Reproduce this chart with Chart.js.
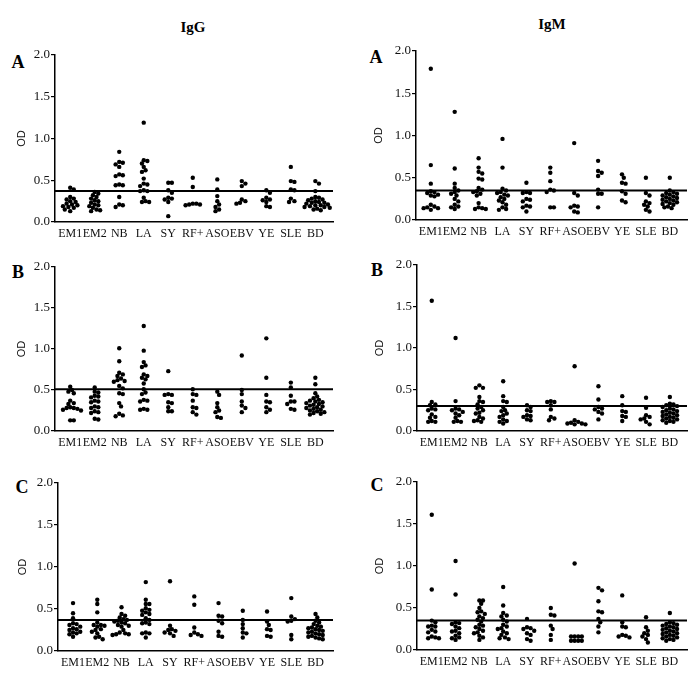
<!DOCTYPE html>
<html>
<head>
<meta charset="utf-8">
<title>IgG / IgM OD</title>
<script src="https://cdn.jsdelivr.net/npm/chart.js@4.4.1/dist/chart.umd.min.js"></script>
<style>
    html, body { margin: 0; padding: 0; background: #fff; }
    #page { position: relative; width: 700px; height: 677px; overflow: hidden; }
    #page canvas { position: absolute; }
    .lbl { position: absolute; transform: translate(-50%, -50%); font-family: 'Liberation Serif', 'Times New Roman', serif; font-weight: bold; color: #000; white-space: nowrap; line-height: 1; }
    .head { font-size: 15px; }
    .panel { font-size: 18px; }
</style>
</head>
<body>
<div id="page">
    <div class="lbl head" style="left:193px;top:27px">IgG</div>
    <div class="lbl head" style="left:552px;top:24px">IgM</div>
    <div class="lbl panel" style="left:18px;top:62px">A</div>
    <div class="lbl panel" style="left:376px;top:57px">A</div>
    <div class="lbl panel" style="left:18px;top:272px">B</div>
    <div class="lbl panel" style="left:377px;top:270px">B</div>
    <div class="lbl panel" style="left:22px;top:487px">C</div>
    <div class="lbl panel" style="left:377px;top:485px">C</div>
    <canvas id="c1"></canvas>
    <canvas id="c2"></canvas>
    <canvas id="c3"></canvas>
    <canvas id="c4"></canvas>
    <canvas id="c5"></canvas>
    <canvas id="c6"></canvas>
</div>
<script>
// ---- data (OD values per group) ----
const categories = ['EM1', 'EM2', 'NB', 'LA', 'SY', 'RF+', 'ASO', 'EBV', 'YE', 'SLE', 'BD'];
const yTicks = [0, 0.5, 1.0, 1.5, 2.0];

// IgG, panel A
const iggA = [
    [0.41, 0.39, 0.30, 0.28, 0.27, 0.25, 0.24, 0.22, 0.21, 0.20, 0.19, 0.18, 0.17, 0.15, 0.13],
    [0.36, 0.34, 0.32, 0.30, 0.28, 0.26, 0.25, 0.23, 0.21, 0.20, 0.19, 0.17, 0.15, 0.14, 0.13],
    [0.84, 0.72, 0.71, 0.69, 0.66, 0.57, 0.56, 0.55, 0.45, 0.44, 0.44, 0.30, 0.21, 0.20, 0.18],
    [1.19, 0.74, 0.73, 0.70, 0.66, 0.62, 0.60, 0.52, 0.46, 0.45, 0.43, 0.38, 0.37, 0.37, 0.29, 0.25, 0.24, 0.24],
    [0.47, 0.47, 0.38, 0.35, 0.29, 0.28, 0.27, 0.24, 0.07],
    [0.53, 0.42, 0.22, 0.22, 0.21, 0.21, 0.20],
    [0.51, 0.39, 0.31, 0.25, 0.21, 0.18, 0.15, 0.13],
    [0.49, 0.46, 0.43, 0.27, 0.25, 0.23, 0.22],
    [0.38, 0.35, 0.29, 0.27, 0.26, 0.24, 0.19, 0.18],
    [0.66, 0.49, 0.48, 0.39, 0.38, 0.28, 0.25, 0.24],
    [0.49, 0.46, 0.37, 0.30, 0.29, 0.28, 0.27, 0.26, 0.25, 0.24, 0.23, 0.23, 0.22, 0.21, 0.20, 0.20, 0.19, 0.18, 0.18, 0.17, 0.16, 0.15, 0.14]
];
// IgM, panel A
const igmA = [
    [1.79, 0.65, 0.43, 0.34, 0.33, 0.32, 0.30, 0.29, 0.28, 0.18, 0.16, 0.15, 0.14, 0.14, 0.12],
    [1.28, 0.61, 0.43, 0.38, 0.35, 0.33, 0.31, 0.29, 0.25, 0.22, 0.18, 0.16, 0.15, 0.13],
    [0.73, 0.62, 0.57, 0.55, 0.49, 0.48, 0.38, 0.36, 0.34, 0.33, 0.31, 0.29, 0.20, 0.15, 0.14, 0.13, 0.13],
    [0.96, 0.62, 0.37, 0.35, 0.33, 0.32, 0.30, 0.29, 0.27, 0.25, 0.23, 0.21, 0.18, 0.15, 0.13, 0.12],
    [0.44, 0.33, 0.32, 0.32, 0.25, 0.24, 0.22, 0.17, 0.16, 0.15, 0.10],
    [0.62, 0.56, 0.46, 0.36, 0.35, 0.33, 0.15, 0.15],
    [0.91, 0.32, 0.29, 0.17, 0.16, 0.15, 0.10, 0.09],
    [0.70, 0.58, 0.56, 0.52, 0.36, 0.31, 0.31, 0.15],
    [0.54, 0.50, 0.44, 0.43, 0.34, 0.31, 0.23, 0.21],
    [0.50, 0.32, 0.29, 0.22, 0.20, 0.18, 0.16, 0.12, 0.10],
    [0.50, 0.35, 0.33, 0.32, 0.31, 0.30, 0.29, 0.28, 0.27, 0.26, 0.25, 0.24, 0.23, 0.22, 0.21, 0.20, 0.19, 0.18, 0.16, 0.15, 0.14]
];
// IgG, panel B
const iggB = [
    [0.54, 0.50, 0.48, 0.46, 0.37, 0.34, 0.33, 0.29, 0.28, 0.28, 0.27, 0.26, 0.25, 0.13, 0.13],
    [0.53, 0.48, 0.47, 0.43, 0.42, 0.41, 0.37, 0.36, 0.35, 0.30, 0.29, 0.28, 0.24, 0.23, 0.22, 0.15, 0.14],
    [1.01, 0.85, 0.71, 0.69, 0.67, 0.64, 0.62, 0.61, 0.60, 0.55, 0.52, 0.46, 0.45, 0.34, 0.30, 0.21, 0.19, 0.18],
    [1.28, 0.98, 0.84, 0.80, 0.78, 0.69, 0.67, 0.65, 0.63, 0.58, 0.51, 0.47, 0.45, 0.38, 0.37, 0.36, 0.27, 0.26, 0.26],
    [0.73, 0.45, 0.44, 0.44, 0.35, 0.34, 0.29, 0.24, 0.24],
    [0.51, 0.45, 0.44, 0.37, 0.29, 0.28, 0.23, 0.20],
    [0.48, 0.44, 0.34, 0.29, 0.25, 0.23, 0.17, 0.16],
    [0.92, 0.50, 0.45, 0.36, 0.31, 0.28, 0.23],
    [1.13, 0.65, 0.44, 0.36, 0.35, 0.29, 0.26, 0.23],
    [0.59, 0.53, 0.43, 0.36, 0.36, 0.33, 0.27, 0.26],
    [0.65, 0.57, 0.46, 0.42, 0.40, 0.38, 0.37, 0.36, 0.35, 0.34, 0.33, 0.32, 0.31, 0.30, 0.29, 0.28, 0.27, 0.26, 0.25, 0.24, 0.23, 0.22, 0.21, 0.20]
];
// IgM, panel B
const igmB = [
    [1.57, 0.35, 0.32, 0.31, 0.27, 0.26, 0.25, 0.20, 0.17, 0.16, 0.12, 0.11, 0.11],
    [1.12, 0.36, 0.27, 0.26, 0.25, 0.23, 0.21, 0.19, 0.16, 0.12, 0.11, 0.11],
    [0.55, 0.52, 0.52, 0.41, 0.36, 0.35, 0.32, 0.29, 0.27, 0.25, 0.22, 0.21, 0.17, 0.15, 0.13, 0.12, 0.11],
    [0.60, 0.42, 0.36, 0.35, 0.29, 0.25, 0.24, 0.21, 0.19, 0.17, 0.14, 0.12, 0.11, 0.09],
    [0.31, 0.29, 0.25, 0.24, 0.19, 0.18, 0.17, 0.14, 0.13],
    [0.36, 0.35, 0.35, 0.31, 0.26, 0.17, 0.15, 0.13],
    [0.78, 0.13, 0.11, 0.10, 0.09, 0.09, 0.08, 0.08],
    [0.54, 0.38, 0.29, 0.27, 0.26, 0.23, 0.21, 0.14],
    [0.42, 0.31, 0.24, 0.23, 0.18, 0.17, 0.12],
    [0.40, 0.28, 0.19, 0.17, 0.15, 0.14, 0.11, 0.08],
    [0.41, 0.33, 0.32, 0.31, 0.30, 0.29, 0.27, 0.26, 0.25, 0.24, 0.23, 0.22, 0.21, 0.20, 0.19, 0.18, 0.17, 0.16, 0.15, 0.14, 0.13, 0.12, 0.11, 0.10]
];
// IgG, panel C
const iggC = [
    [0.57, 0.45, 0.39, 0.33, 0.32, 0.31, 0.29, 0.27, 0.26, 0.25, 0.23, 0.22, 0.21, 0.20, 0.17],
    [0.61, 0.56, 0.46, 0.34, 0.31, 0.31, 0.30, 0.29, 0.26, 0.25, 0.23, 0.21, 0.17, 0.16, 0.14],
    [0.52, 0.44, 0.42, 0.40, 0.38, 0.37, 0.36, 0.35, 0.34, 0.33, 0.31, 0.30, 0.29, 0.25, 0.22, 0.21, 0.20, 0.20, 0.19],
    [0.82, 0.61, 0.56, 0.56, 0.51, 0.49, 0.48, 0.46, 0.44, 0.43, 0.39, 0.37, 0.34, 0.33, 0.32, 0.22, 0.21, 0.21, 0.16],
    [0.83, 0.30, 0.26, 0.25, 0.24, 0.22, 0.21, 0.18],
    [0.65, 0.55, 0.28, 0.22, 0.20, 0.19, 0.18],
    [0.57, 0.42, 0.41, 0.36, 0.33, 0.23, 0.18, 0.17],
    [0.48, 0.37, 0.32, 0.27, 0.22, 0.21, 0.16],
    [0.47, 0.35, 0.31, 0.26, 0.25, 0.18, 0.17],
    [0.63, 0.41, 0.38, 0.36, 0.35, 0.19, 0.14],
    [0.44, 0.40, 0.36, 0.34, 0.32, 0.30, 0.29, 0.28, 0.27, 0.26, 0.25, 0.24, 0.23, 0.22, 0.21, 0.20, 0.19, 0.18, 0.17, 0.16, 0.15, 0.14]
];
// IgM, panel C
const igmC = [
    [1.61, 0.72, 0.35, 0.33, 0.29, 0.28, 0.28, 0.24, 0.22, 0.21, 0.16, 0.15, 0.14, 0.14],
    [1.06, 0.66, 0.33, 0.32, 0.31, 0.28, 0.26, 0.23, 0.22, 0.20, 0.17, 0.15, 0.14, 0.12],
    [0.59, 0.59, 0.55, 0.50, 0.46, 0.45, 0.43, 0.40, 0.38, 0.36, 0.34, 0.30, 0.29, 0.27, 0.25, 0.23, 0.21, 0.20, 0.17, 0.15, 0.12],
    [0.75, 0.53, 0.44, 0.41, 0.40, 0.36, 0.34, 0.30, 0.28, 0.26, 0.25, 0.22, 0.20, 0.18, 0.15, 0.14, 0.13],
    [0.37, 0.27, 0.26, 0.25, 0.23, 0.20, 0.18, 0.13, 0.11],
    [0.50, 0.42, 0.41, 0.29, 0.25, 0.18, 0.12],
    [1.03, 0.16, 0.16, 0.16, 0.16, 0.11, 0.11, 0.11, 0.11],
    [0.74, 0.71, 0.58, 0.46, 0.45, 0.37, 0.33, 0.28, 0.21],
    [0.65, 0.33, 0.28, 0.27, 0.18, 0.17, 0.16, 0.15],
    [0.39, 0.27, 0.23, 0.20, 0.18, 0.16, 0.13, 0.09],
    [0.44, 0.33, 0.32, 0.31, 0.30, 0.29, 0.28, 0.27, 0.26, 0.25, 0.24, 0.23, 0.22, 0.21, 0.20, 0.19, 0.18, 0.17, 0.16, 0.15, 0.14, 0.13, 0.12, 0.11]
];

// cut-off lines
const iggACut = 0.37;
const igmACut = 0.35;
const iggBCut = 0.51;
const igmBCut = 0.30;
const iggCCut = 0.37;
const igmCCut = 0.35;

// ---- layout ----
const X_MIN = -0.62;
const X_MAX = 10.72;
const AXIS_W = 55;     // room left of the y axis line
const AXIS_H = 24;     // room under the x axis line
const PAD_T = 12;
const PAD_R = 12;

// chart area in page pixels: [left, top, right, bottom]
const panels = [
    { id: 'c1', groups: iggA, cut: iggACut, area: [55, 55, 333, 222], titlePad: 15 },
    { id: 'c2', groups: igmA, cut: igmACut, area: [416, 51, 687, 220], titlePad: 11 },
    { id: 'c3', groups: iggB, cut: iggBCut, area: [55, 267, 333, 431], titlePad: 15 },
    { id: 'c4', groups: igmB, cut: igmBCut, area: [417, 265, 687, 431], titlePad: 11 },
    { id: 'c5', groups: iggC, cut: iggCCut, area: [58, 483, 333, 651], titlePad: 13 },
    { id: 'c6', groups: igmC, cut: igmCCut, area: [417, 482, 687, 650], titlePad: 11 }
];

// spread equal-ish values sideways so dots don't sit on top of each other
function swarm(values, pxX, pxY, gap) {
    const placed = [];
    const out = new Array(values.length);
    const order = values.map((v, i) => i).sort((a, b) => values[b] - values[a]);
    order.forEach(i => {
        const y = values[i] * pxY;
        let off = 0;
        for (let k = 0; k < 60; k++) {
            const cand = (k % 2 ? 1 : -1) * Math.ceil(k / 2) * gap / 2;
            const hit = placed.some(p => (p.x - cand) ** 2 + (p.y - y) ** 2 < gap * gap);
            if (!hit) { off = cand; break; }
        }
        placed.push({ x: off, y: y });
        out[i] = off / pxX;
    });
    return out;
}

const serif = "'Liberation Serif', 'Times New Roman', serif";

panels.forEach(p => {
    const [aL, aT, aR, aB] = p.area;
    const left = aL - AXIS_W;
    const top = aT - PAD_T;
    const width = aR - left + PAD_R;
    const height = aB - top + AXIS_H;

    const cv = document.getElementById(p.id);
    cv.width = width;
    cv.height = height;
    cv.style.left = left + 'px';
    cv.style.top = top + 'px';
    cv.style.width = width + 'px';
    cv.style.height = height + 'px';

    const pxX = (aR - aL) / (X_MAX - X_MIN);
    const pxY = (aB - aT) / 2;

    const points = [];
    p.groups.forEach((vals, gi) => {
        const offs = swarm(vals, pxX, pxY, 3.6);
        vals.forEach((v, j) => points.push({ x: gi + offs[j], y: v }));
    });

    new Chart(cv.getContext('2d'), {
        type: 'scatter',
        data: {
            datasets: [
                {
                    data: points,
                    pointRadius: 2.2,
                    pointBackgroundColor: '#000',
                    pointBorderWidth: 0,
                    pointHoverRadius: 2.2
                },
                {
                    type: 'line',
                    data: [{ x: X_MIN, y: p.cut }, { x: X_MAX, y: p.cut }],
                    borderColor: '#000',
                    borderWidth: 2,
                    pointRadius: 0,
                    fill: false
                }
            ]
        },
        options: {
            responsive: false,
            animation: false,
            events: [],
            layout: { padding: { top: PAD_T, right: PAD_R, left: 0, bottom: 0 } },
            plugins: {
                legend: { display: false },
                tooltip: { enabled: false }
            },
            scales: {
                x: {
                    type: 'linear',
                    min: X_MIN,
                    max: X_MAX,
                    afterFit: s => { s.height = AXIS_H; },
                    afterBuildTicks: s => { s.ticks = categories.map((c, i) => ({ value: i })); },
                    grid: { display: false, drawTicks: false },
                    border: { display: true, color: '#000', width: 1.5 },
                    ticks: {
                        autoSkip: false,
                        maxRotation: 0,
                        padding: 5,
                        color: '#111',
                        font: { family: serif, size: 12 },
                        callback: v => categories[v] ?? ''
                    }
                },
                y: {
                    min: 0,
                    max: 2,
                    afterFit: s => { s.width = AXIS_W; },
                    afterBuildTicks: s => { s.ticks = yTicks.map(v => ({ value: v })); },
                    grid: {
                        display: true,
                        drawOnChartArea: false,
                        drawTicks: true,
                        tickLength: 4,
                        color: '#000',
                        lineWidth: 1.2
                    },
                    border: { display: true, color: '#000', width: 1.5 },
                    ticks: {
                        padding: 1,
                        color: '#111',
                        font: { family: serif, size: 13 },
                        callback: v => Number(v).toFixed(1)
                    },
                    title: {
                        display: true,
                        text: 'OD',
                        color: '#111',
                        font: { family: "'Liberation Sans', Arial, sans-serif", size: 11 },
                        padding: { top: p.titlePad, bottom: 0 }
                    }
                }
            }
        }
    });
});
</script>
</body>
</html>
